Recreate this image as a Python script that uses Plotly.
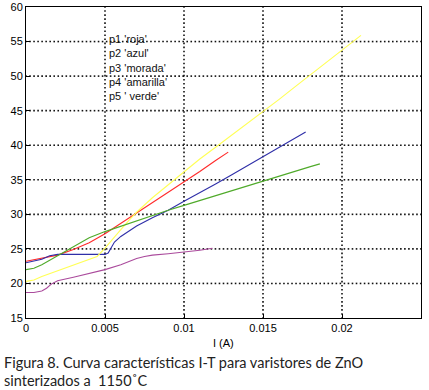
import numpy as np
import plotly.graph_objects as go

# Series data (I in A, T in °C)
roja_x = [0, 0.001, 0.002, 0.003, 0.004, 0.005, 0.006, 0.007, 0.008, 0.009, 0.010, 0.011, 0.012, 0.0128]
roja_y = [23.2, 23.7, 24.1, 24.9, 25.9, 27.2, 28.7, 30.2, 31.6, 33.1, 34.6, 36.2, 37.8, 39.0]

azul_x = [0, 0.0005, 0.001, 0.0015, 0.002, 0.003, 0.004, 0.005, 0.0052, 0.0056, 0.006, 0.007, 0.008,
          0.009, 0.010, 0.011, 0.012, 0.013, 0.014, 0.015, 0.016, 0.017, 0.0177]
azul_y = [23.0, 23.2, 23.5, 24.0, 24.2, 24.2, 24.2, 24.2, 24.4, 26.0, 26.8, 28.3, 29.5,
          30.6, 31.9, 33.1, 34.4, 35.7, 37.0, 38.3, 39.6, 40.9, 41.9]

morada_x = [0, 0.0005, 0.001, 0.0013, 0.0016, 0.002, 0.003, 0.004, 0.005, 0.006, 0.007, 0.0075,
            0.008, 0.009, 0.010, 0.011, 0.0118]
morada_y = [18.7, 18.7, 18.9, 19.3, 19.9, 20.4, 20.9, 21.4, 22.0, 22.7, 23.6, 23.9,
            24.1, 24.3, 24.5, 24.8, 25.1]

amarilla_x = [0, 0.0005, 0.001, 0.002, 0.003, 0.004, 0.0045, 0.005, 0.0055, 0.006, 0.0065, 0.007,
              0.008, 0.009, 0.010, 0.011, 0.012, 0.013, 0.014, 0.015, 0.016, 0.017, 0.018,
              0.019, 0.020, 0.0212]
amarilla_y = [20.3, 20.5, 21.0, 21.8, 22.6, 23.4, 23.9, 25.1, 26.5, 27.8, 29.1, 30.3,
              32.4, 34.3, 36.2, 38.0, 39.7, 41.4, 43.1, 44.8, 46.6, 48.4, 50.2,
              52.0, 53.8, 55.9]

verde_x = [0, 0.0005, 0.001, 0.002, 0.003, 0.004, 0.005, 0.006, 0.007, 0.008, 0.009, 0.010,
           0.011, 0.012, 0.013, 0.014, 0.015, 0.016, 0.017, 0.018, 0.0186]
verde_y = [22.0, 22.2, 22.7, 24.0, 25.4, 26.6, 27.5, 28.3, 29.1, 29.8, 30.6, 31.3,
           32.0, 32.7, 33.4, 34.2, 34.9, 35.6, 36.2, 36.9, 37.3]

x_ticks = [0, 0.005, 0.01, 0.015, 0.02, 0.025]
x_ticklabels = ["0", "0.005", "0.01", "0.015", "0.02", "0.025"]
y_ticks = [15, 20, 25, 30, 35, 40, 45, 50, 55, 60]

legend_lines = ["p1 'roja'", "p2 'azul'", "p3 'morada'", "p4 'amarilla'", "p5 ' verde'"]
x_title = "I (A)"
caption_lines = ["Figura 8. Curva características I-T para varistores de ZnO",
                 "sinterizados a \u00a01150˚C"]

series = [
    (roja_x, roja_y, "#ff2a2a"),
    (azul_x, azul_y, "#2f2fa8"),
    (morada_x, morada_y, "#aa4a9c"),
    (amarilla_x, amarilla_y, "#ffff55"),
    (verde_x, verde_y, "#4faa2a"),
]

x_range = [x_ticks[0], x_ticks[-1]]
y_range = [y_ticks[0], y_ticks[-1]]

fig = go.Figure()

# MATLAB-style dotted grid drawn as small dot markers along the tick positions
n_v, n_h = 78, 99
gx, gy = [], []
for xv in x_ticks[1:-1]:
    ys = np.linspace(y_range[0], y_range[1], n_v)
    gx += [xv] * n_v
    gy += ys.tolist()
for yv in y_ticks[1:-1]:
    xs = np.linspace(x_range[0], x_range[1], n_h)
    gx += xs.tolist()
    gy += [yv] * n_h
fig.add_trace(go.Scatter(x=gx, y=gy, mode="markers", showlegend=False, hoverinfo="skip",
                         marker=dict(symbol="square", size=1.6, color="#111111",
                                     line=dict(width=0))))

for xs, ys, col in series:
    fig.add_trace(go.Scatter(x=xs, y=ys, mode="lines",
                             line=dict(color=col, width=1.1), showlegend=False,
                             hoverinfo="skip"))

tick_font = dict(family="Liberation Sans, Arial, sans-serif", size=11, color="#000")
axis_common = dict(showgrid=False,
                   showline=True, linecolor="#000", linewidth=1, mirror=True,
                   ticks="inside", ticklen=4, tickcolor="#000", zeroline=False,
                   tickfont=tick_font, automargin=False)

fig.update_xaxes(range=x_range, tickvals=x_ticks, ticktext=x_ticklabels, **axis_common)
fig.update_yaxes(range=y_range, tickvals=y_ticks, **axis_common)

fig.add_annotation(x=0.00512, y=56.6, xref="x", yref="y", xanchor="left", yanchor="top",
                   text="<br>".join(legend_lines), showarrow=False, align="left",
                   font=dict(family="Liberation Sans, Arial, sans-serif", size=11, color="#111"))

fig.add_annotation(x=0.5, y=-0.081, xref="paper", yref="paper", xanchor="center", yanchor="middle",
                   text=x_title, showarrow=False,
                   font=dict(family="Liberation Sans, Arial, sans-serif", size=11, color="#000"))

fig.add_annotation(x=-0.061, y=-0.143, xref="paper", yref="paper", xanchor="left", yanchor="middle",
                   text=caption_lines[0], showarrow=False,
                   font=dict(family="Lato, sans-serif", size=14.5, color="#222"))
fig.add_annotation(x=-0.061, y=-0.201, xref="paper", yref="paper", xanchor="left", yanchor="middle",
                   text=caption_lines[1], showarrow=False,
                   font=dict(family="Lato, sans-serif", size=14.5, color="#222"))

fig.update_layout(width=429, height=390, margin=dict(l=26, r=8, t=7, b=72, autoexpand=False),
                  paper_bgcolor="white", plot_bgcolor="white", template="none")

fig.write_html("out.html", config={"displayModeBar": False},
               post_script="document.body.style.margin='0';")
